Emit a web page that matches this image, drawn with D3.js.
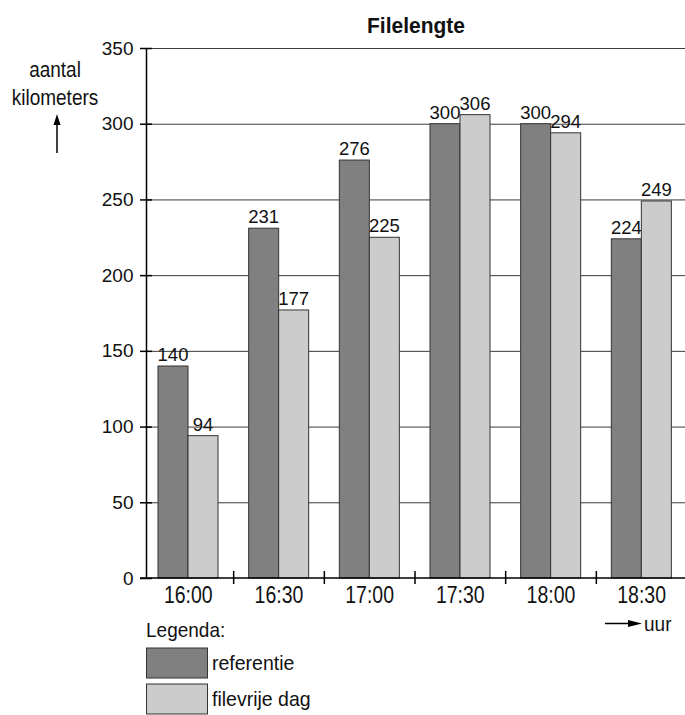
<!DOCTYPE html>
<html>
<head>
<meta charset="utf-8">
<script src="https://cdn.jsdelivr.net/npm/d3@7"></script>
<style>
  body { margin: 0; background: #fff; }
  text { font-family: "Liberation Sans", Arial, sans-serif; fill: #111; }
</style>
</head>
<body>
<script>
// data
var times = ["16:00", "16:30", "17:00", "17:30", "18:00", "18:30"];
var referentie = [140, 231, 276, 300, 300, 224];
var filevrij = [94, 177, 225, 306, 294, 249];
var yTicks = [0, 50, 100, 150, 200, 250, 300, 350];
var seriesNames = ["referentie", "filevrije dag"];
var colors = ["#808080", "#cccccc"];

var w = 685, h = 715;

var svg = d3.select("body")
    .append("svg")
    .attr("width", w)
    .attr("height", h);

// text a bit taller than it is wide, like the condensed original
function stretch(px, py, sy){
    return "translate(" + px + "," + py + ") scale(1," + sy + ")";
}

// scales
var x = d3.scaleBand()
    .domain(times)
    .range([143, 687])
    .padding(0);

var y = d3.scaleLinear()
    .domain([0, 350])
    .range([578, 48]);

var axisX = 146.5;

// gridlines
svg.selectAll(".grid")
    .data(yTicks.slice(1))
    .enter()
    .append("line")
    .attr("class", "grid")
    .attr("x1", axisX)
    .attr("x2", w)
    .attr("y1", function(d){ return y(d) + 0.5; })
    .attr("y2", function(d){ return y(d) + 0.5; })
    .attr("stroke", "#3a3a3a")
    .attr("stroke-width", 1);

// bars + value labels
var bw = 30;
[referentie, filevrij].forEach(function(series, s){
    svg.selectAll(".bar" + s)
        .data(series)
        .enter()
        .append("rect")
        .attr("class", "bar" + s)
        .attr("x", function(d, i){ return x(times[i]) + 15 + s * bw; })
        .attr("y", function(d){ return y(d); })
        .attr("width", bw)
        .attr("height", function(d){ return y(0) - y(d); })
        .attr("fill", colors[s])
        .attr("stroke", "#333")
        .attr("stroke-width", 1);

    svg.selectAll(".val" + s)
        .data(series)
        .enter()
        .append("text")
        .attr("class", "val" + s)
        .attr("transform", function(d, i){
            return stretch(x(times[i]) + 15 + s * bw + bw / 2, y(d) - 5, 1.02);
        })
        .attr("text-anchor", "middle")
        .style("font-size", "18.5px")
        .text(function(d){ return d; });
});

// y axis
var yAxis = d3.axisLeft(y)
    .tickValues(yTicks)
    .tickSize(0)
    .tickPadding(13);

var gy = svg.append("g")
    .attr("transform", "translate(" + axisX + ",0)")
    .call(yAxis);
gy.select(".domain").remove();
gy.selectAll("text")
    .style("font-size", "19px")
    .style("font-family", "'Liberation Sans', Arial, sans-serif")
    .attr("fill", "#111");

svg.append("line")
    .attr("x1", axisX).attr("x2", axisX)
    .attr("y1", y(350)).attr("y2", y(0))
    .attr("stroke", "#000").attr("stroke-width", 1.5);

svg.selectAll(".ytick")
    .data(yTicks)
    .enter()
    .append("line")
    .attr("class", "ytick")
    .attr("x1", 140).attr("x2", 152)
    .attr("y1", function(d){ return y(d) + 0.5; })
    .attr("y2", function(d){ return y(d) + 0.5; })
    .attr("stroke", "#000").attr("stroke-width", 1.5);

// x axis
svg.append("line")
    .attr("x1", 140).attr("x2", w)
    .attr("y1", y(0)).attr("y2", y(0))
    .attr("stroke", "#000").attr("stroke-width", 1.5);

svg.selectAll(".xtick")
    .data(times.slice(1))
    .enter()
    .append("line")
    .attr("class", "xtick")
    .attr("x1", function(d){ return x(d); })
    .attr("x2", function(d){ return x(d); })
    .attr("y1", y(0) - 7).attr("y2", y(0) + 6)
    .attr("stroke", "#000").attr("stroke-width", 1.5);

svg.selectAll(".xlab")
    .data(times)
    .enter()
    .append("text")
    .attr("class", "xlab")
    .attr("transform", function(d){
        return stretch(x(d) + x.bandwidth() / 2, 602.5, 1.18);
    })
    .attr("text-anchor", "middle")
    .style("font-size", "19.5px")
    .text(function(d){ return d; });

// title
svg.append("text")
    .attr("transform", stretch(416, 33, 1.05))
    .attr("text-anchor", "middle")
    .style("font-size", "21px")
    .style("font-weight", "bold")
    .text("Filelengte");

// y label
svg.append("text")
    .attr("transform", stretch(55, 77, 1.12))
    .attr("text-anchor", "middle")
    .style("font-size", "19px")
    .text("aantal");
svg.append("text")
    .attr("transform", stretch(55, 105, 1.12))
    .attr("text-anchor", "middle")
    .style("font-size", "19px")
    .text("kilometers");

svg.append("line")
    .attr("x1", 57).attr("x2", 57)
    .attr("y1", 153).attr("y2", 122)
    .attr("stroke", "#000").attr("stroke-width", 1.5);
svg.append("path")
    .attr("d", "M57,114 L53.5,125 L60.5,125 Z")
    .attr("fill", "#000");

// x label
svg.append("line")
    .attr("x1", 605).attr("x2", 630)
    .attr("y1", 623.5).attr("y2", 623.5)
    .attr("stroke", "#000").attr("stroke-width", 1.5);
svg.append("path")
    .attr("d", "M642,623.5 L628,620 L628,627 Z")
    .attr("fill", "#000");
svg.append("text")
    .attr("transform", stretch(644, 631, 1.1))
    .style("font-size", "19px")
    .text("uur");

// legend
svg.append("text")
    .attr("transform", stretch(146, 637, 1.1))
    .style("font-size", "19px")
    .text("Legenda:");

var legend = svg.selectAll(".legend")
    .data(seriesNames)
    .enter()
    .append("g")
    .attr("class", "legend")
    .attr("transform", function(d, i){ return "translate(146," + (648 + i * 36) + ")"; });

legend.append("rect")
    .attr("x", 0.5).attr("y", 0)
    .attr("width", 61).attr("height", 30)
    .attr("fill", function(d, i){ return colors[i]; })
    .attr("stroke", "#333")
    .attr("stroke-width", 1);

legend.append("text")
    .attr("transform", stretch(66, 22, 1.08))
    .style("font-size", "19.5px")
    .text(function(d){ return d; });
</script>
</body>
</html>
